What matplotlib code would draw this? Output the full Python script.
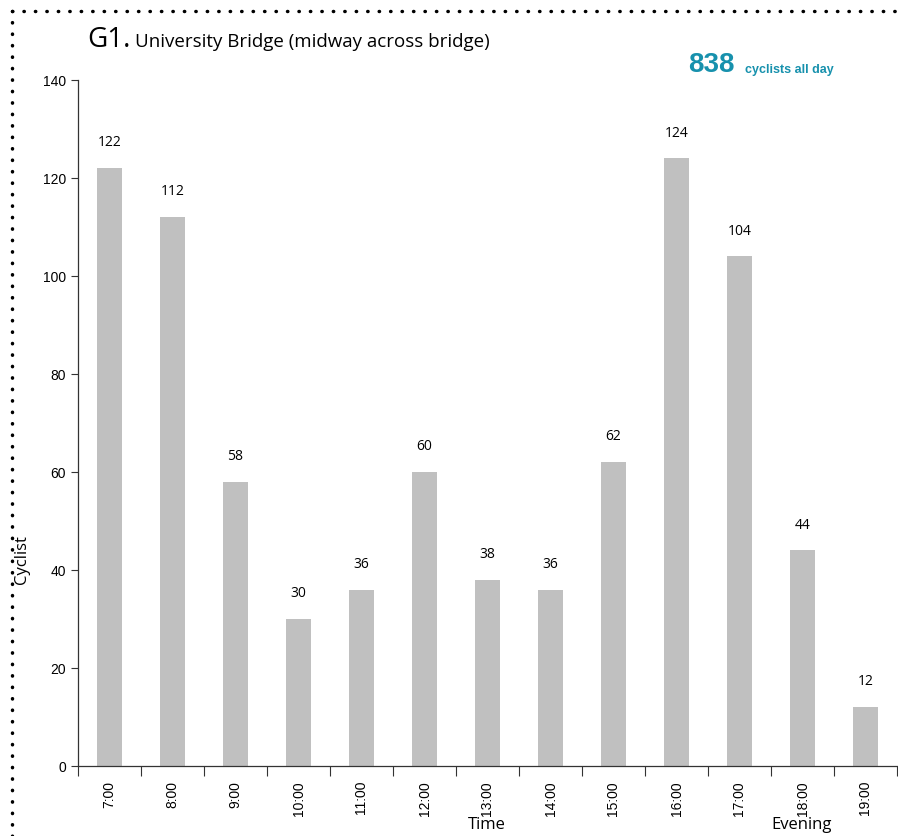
import numpy as np
import matplotlib.pyplot as plt
from matplotlib.lines import Line2D

# 数据
hours = ["7:00", "8:00", "9:00", "10:00", "11:00", "12:00", "13:00",
         "14:00", "15:00", "16:00", "17:00", "18:00", "19:00"]
cyclists = [122, 112, 58, 30, 36, 60, 38, 36, 62, 124, 104, 44, 12]
total = 838

W, H = 898, 837
fig = plt.figure(figsize=(W / 100, H / 100), dpi=100)
ax = fig.add_axes([78 / W, 1 - 767 / H, 819 / W, 686 / H])

x = np.arange(len(hours))
ax.bar(x, cyclists, width=0.41, color="#c0c0c0", zorder=2)

for xi, v in zip(x, cyclists):
    ax.annotate(str(v), (xi, v), xytext=(0, 13.5), textcoords="offset points",
                ha="center", va="bottom", fontsize=10, family="Open Sans")

ax.set_xlim(-0.5, len(hours) - 0.5)
ax.set_ylim(0, 140)
ax.set_yticks(range(0, 141, 20))
ax.set_xticks(x)
ax.set_xticklabels(hours, rotation=90, fontsize=10, family="Liberation Sans")
ax.set_xticks(np.arange(-0.5, len(hours), 1.0), minor=True)
ax.tick_params(axis="x", which="major", length=0, pad=10)
ax.tick_params(axis="x", which="minor", length=7, width=0.8, color="#333333")
ax.tick_params(axis="y", length=5, width=0.8, color="#333333", labelsize=10)
for lab in ax.get_yticklabels():
    lab.set_family("Liberation Sans")

for s in ["top", "right"]:
    ax.spines[s].set_visible(False)
for s in ["left", "bottom"]:
    ax.spines[s].set_color("#333333")
    ax.spines[s].set_linewidth(0.9)

# 标题和注释
fig.text(87 / W, 1 - 40 / H, "G1.", fontsize=20, family="Open Sans", va="center")
fig.text(135 / W, 1 - 42 / H, "University Bridge (midway across bridge)",
         fontsize=13.5, family="Open Sans", va="center")
fig.text(688 / W, 1 - 65 / H, str(total), fontsize=20, fontweight="bold",
         color="#1791ad", family="Liberation Sans", va="center")
fig.text(745 / W, 1 - 70 / H, "cyclists all day", fontsize=9, fontweight="bold",
         color="#1791ad", family="Liberation Sans", va="center")

fig.text(22 / W, 1 - 560 / H, "Cyclist", rotation=90, fontsize=12,
         family="Open Sans", ha="center", va="center")
fig.text(487 / W, 1 - 825 / H, "Time", fontsize=12, family="Open Sans",
         ha="center", va="center")
fig.text(802 / W, 1 - 825 / H, "Evening", fontsize=12, family="Open Sans",
         ha="center", va="center")

# 虚线边框
fig.add_artist(Line2D([12 / W, 1], [1 - 12 / H, 1 - 12 / H], transform=fig.transFigure,
                      color="black", linestyle=(0, (0.1, 3.2)), linewidth=2.5,
                      solid_capstyle="round", dash_capstyle="round"))
fig.add_artist(Line2D([12 / W, 12 / W], [0, 1 - 12 / H], transform=fig.transFigure,
                      color="black", linestyle=(0, (0.1, 3.2)), linewidth=2.5,
                      solid_capstyle="round", dash_capstyle="round"))

fig.savefig("out.png", dpi=100)
